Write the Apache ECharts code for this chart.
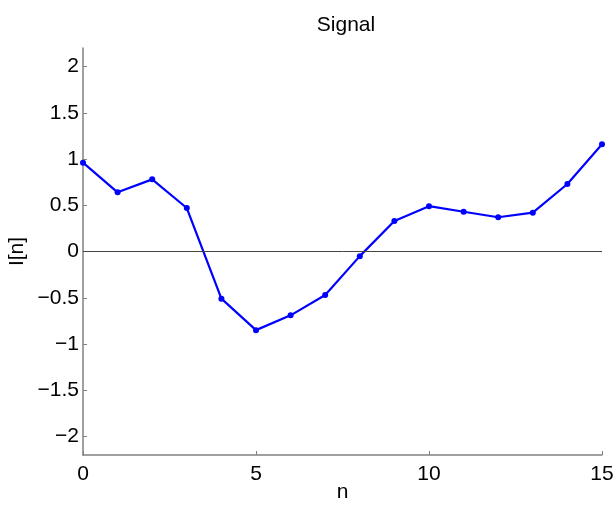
<!DOCTYPE html>
<html>
<head>
<meta charset="utf-8">
<script src="https://cdn.jsdelivr.net/npm/echarts@6/dist/echarts.min.js"></script>
<style>
  html, body { margin: 0; padding: 0; background: #fff; }
  #chart { width: 613px; height: 505px; }
</style>
</head>
<body>
<div id="chart"></div>
<script>
// sample index n
const nValues = [0, 1, 2, 3, 4, 5, 6, 7, 8, 9, 10, 11, 12, 13, 14, 15]
// signal values I[n]
const signal = [0.96, 0.64, 0.78, 0.47, -0.51, -0.85, -0.69, -0.47, -0.05, 0.33, 0.49, 0.43, 0.37, 0.42, 0.73, 1.16]
// y tick positions
const yTicks = [-2, -1.5, -1, -0.5, 0, 0.5, 1, 1.5, 2]

const font = "'Liberation Sans', Arial, sans-serif"
const fmt = (v) => String(v).replace("-", "\u2212")

const chart = echarts.init(document.getElementById("chart"))

const option = {
  animation: false,
  title: {
    text: "Signal",
    left: 341,
    textAlign: "center",
    top: 10,
    textStyle: { fontFamily: font, fontSize: 21, fontWeight: "normal", color: "#000" },
  },
  grid: { left: 83, right: 11, top: 48, bottom: 50, outerBoundsMode: "none" },
  xAxis: {
    type: "value",
    min: 0,
    max: 15,
    interval: 5,
    name: "n",
    nameLocation: "middle",
    nameGap: 27,
    nameMoveOverlap: false,
    nameTextStyle: { fontFamily: font, fontSize: 21, color: "#000" },
    splitLine: { show: false },
    axisLine: { onZero: false, lineStyle: { color: "#808080", width: 1.5 } },
    axisTick: { inside: true, length: 4, lineStyle: { color: "#808080" } },
    axisLabel: { fontFamily: font, fontSize: 21, color: "#000", margin: 9 },
  },
  yAxis: {
    type: "value",
    min: -2.2,
    max: 2.2,
    name: "I[n]",
    nameLocation: "middle",
    nameGap: 55,
    nameMoveOverlap: false,
    nameTextStyle: { fontFamily: font, fontSize: 21, color: "#000" },
    splitLine: { show: false },
    axisLine: { show: true, onZero: false, lineStyle: { color: "#808080", width: 1.5 } },
    axisTick: { show: true, inside: true, length: 4, customValues: yTicks, lineStyle: { color: "#808080" } },
    axisLabel: { fontFamily: font, fontSize: 21, color: "#000", margin: 4, customValues: yTicks, formatter: fmt },
  },
  series: [
    {
      type: "line",
      data: nValues.map((n, i) => [n, signal[i]]),
      symbol: "circle",
      symbolSize: 6,
      showSymbol: true,
      lineStyle: { color: "#0000ff", width: 2.2 },
      itemStyle: { color: "#0000ff" },
      markLine: {
        silent: true,
        symbol: "none",
        label: { show: false },
        lineStyle: { color: "#444", width: 1, type: "solid" },
        data: [{ yAxis: 0 }],
      },
      z: 3,
    },
  ],
}

chart.setOption(option)
</script>
</body>
</html>
